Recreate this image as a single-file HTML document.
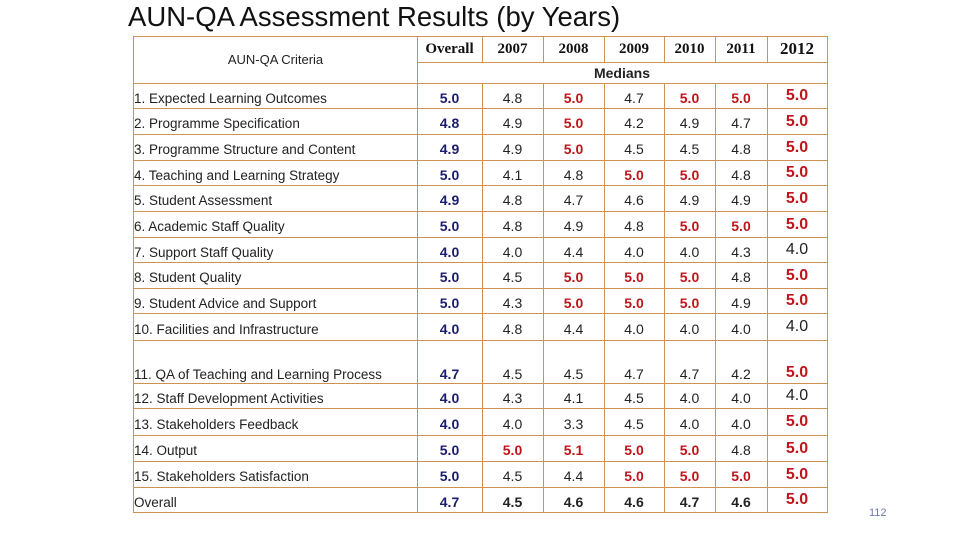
<!DOCTYPE html>
<html><head><meta charset="utf-8">
<style>
body{margin:0;width:960px;height:540px;background:#fff;position:relative;overflow:hidden;font-family:"Liberation Sans",sans-serif}
#title{position:absolute;left:128px;top:0px;font-size:27.5px;color:#111;white-space:nowrap;line-height:34px}
.c{position:absolute;display:flex;align-items:center;justify-content:center;box-sizing:border-box;white-space:nowrap}
.ln{position:absolute;background:#d09050}
.lab{justify-content:flex-start;padding-left:1px;font-size:13.5px;color:#222;padding-top:5px}
.hd{font-family:"Liberation Serif",serif;font-weight:bold;font-size:15px;color:#111}
.v{font-size:14px;color:#222;padding-top:4px}
.nv{color:#1c1c6c;font-weight:bold}
.rd{color:#c0141c;font-weight:bold}
.big{font-size:16px;padding-top:1px}
#pg{position:absolute;left:869px;top:507px;font-size:11px;color:#6a7ab0}
</style></head><body>
<div id="title">AUN-QA Assessment Results (by Years)</div>
<div id="tbl"></div>
<div id="pg">112</div>
<script>
const criteria=["1. Expected Learning Outcomes","2. Programme Specification","3. Programme Structure and Content","4. Teaching and Learning Strategy","5. Student Assessment","6. Academic Staff Quality","7. Support Staff Quality","8. Student Quality","9. Student Advice and Support","10. Facilities and Infrastructure","11. QA of Teaching and Learning Process","12. Staff Development Activities","13. Stakeholders Feedback","14. Output","15. Stakeholders Satisfaction","Overall"];
const headers=["Overall","2007","2008","2009","2010","2011","2012"];
const overall=[5.0,4.8,4.9,5.0,4.9,5.0,4.0,5.0,5.0,4.0,4.7,4.0,4.0,5.0,5.0,4.7];
const y2007=[4.8,4.9,4.9,4.1,4.8,4.8,4.0,4.5,4.3,4.8,4.5,4.3,4.0,5.0,4.5,4.5];
const y2008=[5.0,5.0,5.0,4.8,4.7,4.9,4.4,5.0,5.0,4.4,4.5,4.1,3.3,5.1,4.4,4.6];
const y2009=[4.7,4.2,4.5,5.0,4.6,4.8,4.0,5.0,5.0,4.0,4.7,4.5,4.5,5.0,5.0,4.6];
const y2010=[5.0,4.9,4.5,5.0,4.9,5.0,4.0,5.0,5.0,4.0,4.7,4.0,4.0,5.0,5.0,4.7];
const y2011=[5.0,4.7,4.8,4.8,4.9,5.0,4.3,4.8,4.9,4.0,4.2,4.0,4.0,4.8,5.0,4.6];
const y2012=[5.0,5.0,5.0,5.0,5.0,5.0,4.0,5.0,5.0,4.0,5.0,4.0,5.0,5.0,5.0,5.0];
const cols=[overall,y2007,y2008,y2009,y2010,y2011,y2012];
const xs=[133,417,482,543,604,664,715,767,827];
const ys=[36,62,83,108,134,160,185,211,237,262,288,313,340,383,408,435,461,487,512];
const T=document.getElementById('tbl');
function cell(x,y,w,h,txt,cls){const d=document.createElement('div');d.className='c '+cls;d.style.left=x+'px';d.style.top=y+'px';d.style.width=w+'px';d.style.height=h+'px';d.textContent=txt;T.appendChild(d);return d;}
function line(x,y,w,h){const d=document.createElement('div');d.className='ln';d.style.left=x+'px';d.style.top=y+'px';d.style.width=w+'px';d.style.height=h+'px';


T.appendChild(d);}
line(xs[0],ys[0],xs[8]-xs[0]+1,1);
line(xs[1],ys[1],xs[8]-xs[1],1);
for(let i=2;i<ys.length;i++)line(xs[0],ys[i],xs[8]-xs[0]+1,1);
line(xs[0],ys[0],1,ys[18]-ys[0]+1);line(xs[8],ys[0],1,ys[18]-ys[0]+1);
for(let j=1;j<8;j++)line(xs[j],(j==1?ys[0]:ys[2]),1,ys[18]-(j==1?ys[0]:ys[2]));
for(let j=2;j<8;j++)line(xs[j],ys[0],1,ys[1]-ys[0]);
let h=cell(xs[0],ys[0],xs[1]-xs[0],ys[2]-ys[0],"AUN-QA Criteria","lab");h.style.justifyContent='center';h.style.fontSize='13px';h.style.paddingTop='0';


headers.forEach((t,j)=>{const d=cell(xs[j+1],ys[0],xs[j+2]-xs[j+1],ys[1]-ys[0],t,'hd');if(j==6)d.style.fontSize='17px';

});
const m=cell(xs[1],ys[1],xs[8]-xs[1],ys[2]-ys[1],"Medians","");m.style.fontSize='14px';m.style.fontWeight='bold';m.style.color='#222';


criteria.forEach((c,i)=>{const y=ys[i+2],hh=ys[i+3]-ys[i+2];
const l=cell(xs[0],y,xs[1]-xs[0],hh,c,'lab');
if(i==10){l.style.alignItems='flex-end';l.style.paddingBottom='1px';}


cols.forEach((arr,j)=>{const v=arr[i];let cls='v';
if(j==0)cls+=' nv';else if(v>=5)cls+=' rd';
if(j==6)cls+=' big';
const d=cell(xs[j+1],y,xs[j+2]-xs[j+1],hh,v.toFixed(1),cls);
if(i==15&&j>0&&v<5){d.style.fontWeight='bold';}
if(i==10){d.style.alignItems='flex-end';d.style.paddingBottom='1px';}

});});
</script>
</body></html>
